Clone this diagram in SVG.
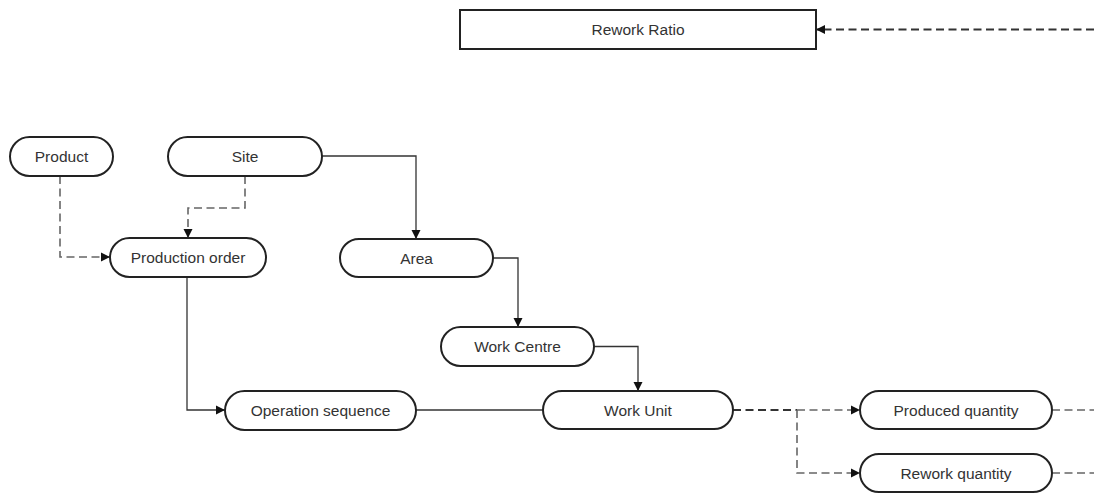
<svg xmlns="http://www.w3.org/2000/svg" width="1094" height="493" viewBox="0 0 1094 493">
<style>
.n{fill:#fff;stroke:#222;stroke-width:2}
.t{font-family:"Liberation Sans",Arial,sans-serif;font-size:15.5px;fill:#333;text-anchor:middle;dominant-baseline:central}
.s{fill:none;stroke:#333;stroke-width:1.3}
.d{fill:none;stroke:#666;stroke-width:1.6;stroke-dasharray:8 4.5}
.dd{fill:none;stroke:#333;stroke-width:2;stroke-dasharray:8 4.5}
</style>
<defs>
<marker id="a" markerWidth="10" markerHeight="10" refX="9" refY="5" orient="auto" markerUnits="userSpaceOnUse">
<path d="M0,0.5 L9,5 L0,9.5 Z" fill="#111"/>
</marker>
</defs>
<rect width="1094" height="493" fill="#fff"/>
<g id="connectors">
<path class="d" d="M60,176 V257 H110" marker-end="url(#a)"/>
<path class="d" d="M245,176 V208 H188 V238" marker-end="url(#a)"/>
<path class="s" d="M322,156 H416 V239" marker-end="url(#a)"/>
<path class="s" d="M493,258 H518 V327" marker-end="url(#a)"/>
<path class="s" d="M594,346.5 H638 V391" marker-end="url(#a)"/>
<path class="s" d="M187,277 V410 H225" marker-end="url(#a)"/>
<path class="s" d="M416,410 H543"/>
<path class="dd" d="M733,410 H797"/>
<path class="d" d="M797,410 H860" marker-end="url(#a)"/>
<path class="d" d="M797,410 V473 H860" marker-end="url(#a)"/>
<path class="d" d="M1052,410 H1094"/>
<path class="d" d="M1052,473 H1094"/>
<path class="dd" d="M1094,29.5 H816" marker-end="url(#a)"/>
</g>
<g id="rework-ratio"><rect class="n" x="460" y="10" width="356" height="39"/><text class="t" x="638" y="29.5">Rework Ratio</text></g>
<g id="product"><rect class="n" x="10" y="137" width="103" height="39" rx="19.5"/><text class="t" x="61.5" y="156.5">Product</text></g>
<g id="site"><rect class="n" x="168" y="137" width="154" height="39" rx="19.5"/><text class="t" x="245" y="156.5">Site</text></g>
<g id="production-order"><rect class="n" x="110" y="238" width="156" height="39" rx="19.5"/><text class="t" x="188" y="257.5">Production order</text></g>
<g id="area"><rect class="n" x="340" y="239" width="153" height="38" rx="19"/><text class="t" x="416.5" y="258">Area</text></g>
<g id="work-centre"><rect class="n" x="441" y="327" width="153" height="39" rx="19.5"/><text class="t" x="517.5" y="346.5">Work Centre</text></g>
<g id="operation-sequence"><rect class="n" x="225" y="391" width="191" height="39" rx="19.5"/><text class="t" x="320.5" y="410.5">Operation sequence</text></g>
<g id="work-unit"><rect class="n" x="543" y="391" width="190" height="38" rx="19"/><text class="t" x="638" y="410">Work Unit</text></g>
<g id="produced-quantity"><rect class="n" x="860" y="391" width="192" height="38" rx="19"/><text class="t" x="956" y="410">Produced quantity</text></g>
<g id="rework-quantity"><rect class="n" x="860" y="454" width="192" height="38" rx="19"/><text class="t" x="956" y="473">Rework quantity</text></g>
</svg>
